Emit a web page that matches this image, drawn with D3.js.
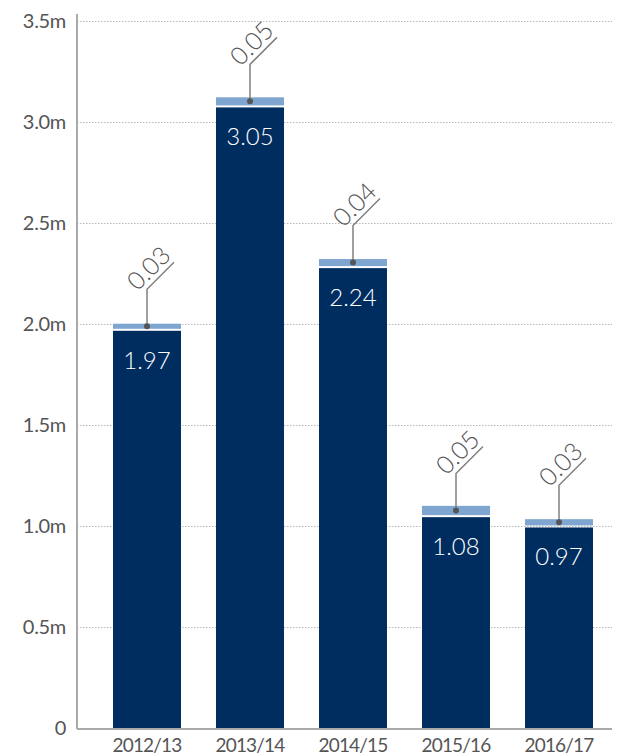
<!DOCTYPE html>
<html>
<head>
<meta charset="utf-8">
<script src="https://cdn.jsdelivr.net/npm/d3@7"></script>
<style>
  html, body { margin: 0; padding: 0; background: #fff; }
  svg { display: block; font-family: Lato, "Open Sans", sans-serif; }
</style>
</head>
<body>
<svg id="chart" width="618" height="755"></svg>
<script>
// Data
const categories = ["2012/13", "2013/14", "2014/15", "2015/16", "2016/17"];
const coreValues = [1.965, 3.07, 2.275, 1.043, 0.992];      // dark segment heights (m)
const extraValues = [0.035, 0.05, 0.045, 0.056, 0.041];     // light segment heights (m)
const coreLabels = ["1.97", "3.05", "2.24", "1.08", "0.97"];
const extraLabels = ["0.03", "0.05", "0.04", "0.05", "0.03"];
const yTicks = [0, 0.5, 1.0, 1.5, 2.0, 2.5, 3.0, 3.5];
const yTickLabels = ["0", "0.5m", "1.0m", "1.5m", "2.0m", "2.5m", "3.0m", "3.5m"];

const svg = d3.select("#chart");
const axisX = 77, plotRight = 612;

const y = d3.scaleLinear().domain([0, 3.5]).range([728, 20.5]);
const x = d3.scaleBand().domain(categories).range([95.5, 610.5])
  .paddingInner(0.34).paddingOuter(0.17);

// gridlines
svg.append("g").selectAll("line").data(yTicks.filter(d => d > 0)).join("line")
  .attr("x1", axisX).attr("x2", plotRight)
  .attr("y1", d => Math.round(y(d)) + 0.5).attr("y2", d => Math.round(y(d)) + 0.5)
  .attr("stroke", "#b8b8b8").attr("stroke-width", 1).attr("stroke-dasharray", "1.5,1.5");

// y tick labels
svg.append("g").selectAll("text").data(yTicks).join("text")
  .attr("x", 66).attr("y", d => y(d) + 7)
  .attr("text-anchor", "end")
  .attr("font-size", 20).attr("font-weight", 400).attr("fill", "#555")
  .attr("letter-spacing", "-0.3px")
  .text((d, i) => yTickLabels[i]);

const data = categories.map((c, i) => ({
  cat: c, core: coreValues[i], extra: extraValues[i],
  coreLabel: coreLabels[i], extraLabel: extraLabels[i]
}));

// dark segments
svg.append("g").selectAll("rect").data(data).join("rect")
  .attr("x", d => x(d.cat)).attr("width", x.bandwidth())
  .attr("y", d => y(d.core)).attr("height", d => y(0) - y(d.core))
  .attr("fill", "#002d5f");

// light segments (with white gap)
svg.append("g").selectAll("rect").data(data).join("rect")
  .attr("x", d => x(d.cat)).attr("width", x.bandwidth())
  .attr("y", d => y(d.core + d.extra))
  .attr("height", d => y(d.core) - y(d.core + d.extra) - 2)
  .attr("fill", "#7fa6d0");

// value labels inside bars
svg.append("g").selectAll("text").data(data).join("text")
  .attr("x", d => x(d.cat) + x.bandwidth() / 2)
  .attr("y", d => y(d.core) + 38)
  .attr("text-anchor", "middle")
  .attr("font-size", 24).attr("font-weight", 300).attr("fill", "#fff")
  .text(d => d.coreLabel);

// annotations for light segments
const ann = svg.append("g").selectAll("g").data(data).join("g");
ann.each(function(d) {
  const g = d3.select(this);
  const cx = x(d.cat) + x.bandwidth() / 2;
  const cy = (y(d.core + d.extra) + y(d.core) - 2) / 2;
  const vTop = cy - 37;
  const ex = cx + 27, ey = vTop - 27;
  g.append("path")
    .attr("d", `M${cx},${cy}V${vTop}L${ex},${ey}`)
    .attr("fill", "none").attr("stroke", "#808080").attr("stroke-width", 1.5);
  g.append("circle").attr("cx", cx).attr("cy", cy).attr("r", 3).attr("fill", "#555");
  const mx = (cx + ex) / 2, my = (vTop + ey) / 2;
  g.append("text")
    .attr("transform", `translate(${mx},${my}) rotate(-45)`)
    .attr("dx", -3).attr("dy", -5)
    .attr("text-anchor", "middle")
    .attr("font-size", 25).attr("font-weight", 300).attr("fill", "#555")
    .text(d.extraLabel);
});

// axes lines
svg.append("line").attr("x1", axisX).attr("x2", axisX).attr("y1", 14).attr("y2", 729)
  .attr("stroke", "#aaa").attr("stroke-width", 2);
svg.append("line").attr("x1", axisX).attr("x2", plotRight).attr("y1", 729).attr("y2", 729)
  .attr("stroke", "#aaa").attr("stroke-width", 2);

// x labels
svg.append("g").selectAll("text").data(categories).join("text")
  .attr("x", d => x(d) + x.bandwidth() / 2).attr("y", 752)
  .attr("text-anchor", "middle")
  .attr("font-size", 19).attr("font-weight", 400).attr("fill", "#555")
  .attr("letter-spacing", "-0.8px")
  .text(d => d);
</script>
</body>
</html>
